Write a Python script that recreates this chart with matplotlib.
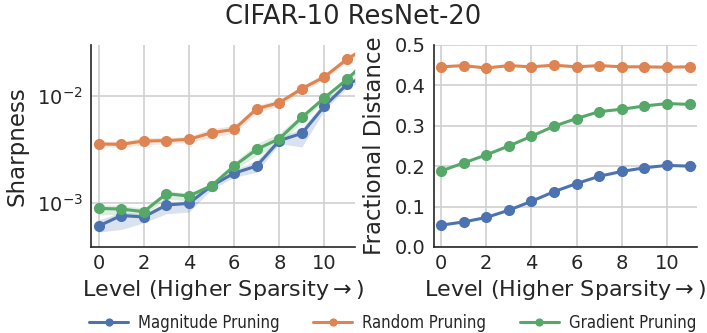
import numpy as np
import matplotlib.pyplot as plt
import seaborn as sns

sns.set_theme(style="whitegrid")
plt.rcParams['font.family'] = ['DejaVu Sans']
plt.rcParams['text.color'] = '#262626'
plt.rcParams['axes.labelcolor'] = '#262626'

levels = np.arange(13)
levels_fd = np.arange(12)

# sharpness (log scale), mean with lower/upper band
sharp_mag = [6.15e-4, 7.7e-4, 7.46e-4, 9.64e-4, 1.0e-3, 1.46e-3, 1.91e-3, 2.23e-3, 3.84e-3, 4.49e-3, 8.07e-3, 1.29e-2, 1.59e-2]
sharp_mag_lo = [5.4e-4, 5.7e-4, 6.6e-4, 8.0e-4, 8.3e-4, 1.35e-3, 1.75e-3, 1.95e-3, 3.6e-3, 3.35e-3, 7.4e-3, 1.2e-2, 1.45e-2]
sharp_mag_hi = [7.0e-4, 8.3e-4, 8.0e-4, 1.03e-3, 1.06e-3, 1.55e-3, 2.05e-3, 2.5e-3, 4.1e-3, 5.0e-3, 8.8e-3, 1.38e-2, 1.75e-2]

sharp_rand = [3.57e-3, 3.55e-3, 3.81e-3, 3.84e-3, 3.95e-3, 4.55e-3, 4.89e-3, 7.62e-3, 8.67e-3, 1.17e-2, 1.51e-2, 2.21e-2, 2.96e-2]
sharp_rand_lo = [3.35e-3, 3.35e-3, 3.5e-3, 3.6e-3, 3.7e-3, 4.1e-3, 4.5e-3, 7.0e-3, 8.1e-3, 1.1e-2, 1.42e-2, 2.08e-2, 2.8e-2]
sharp_rand_hi = [3.8e-3, 3.8e-3, 4.1e-3, 4.1e-3, 4.2e-3, 5.0e-3, 5.3e-3, 8.2e-3, 9.3e-3, 1.25e-2, 1.62e-2, 2.35e-2, 3.15e-2]

sharp_grad = [8.97e-4, 8.85e-4, 8.36e-4, 1.23e-3, 1.17e-3, 1.46e-3, 2.23e-3, 3.19e-3, 4.0e-3, 6.33e-3, 9.64e-3, 1.43e-2, 2.27e-2]
sharp_grad_lo = [7.8e-4, 7.9e-4, 7.8e-4, 1.1e-3, 1.05e-3, 1.38e-3, 2.05e-3, 2.8e-3, 3.5e-3, 5.8e-3, 9.0e-3, 1.35e-2, 2.1e-2]
sharp_grad_hi = [9.7e-4, 9.6e-4, 9.0e-4, 1.3e-3, 1.25e-3, 1.55e-3, 2.4e-3, 3.6e-3, 4.5e-3, 6.8e-3, 1.03e-2, 1.52e-2, 2.45e-2]

# fractional distance
fd_mag = [0.054, 0.062, 0.073, 0.091, 0.113, 0.137, 0.157, 0.175, 0.187, 0.196, 0.202, 0.200]
fd_rand = [0.446, 0.449, 0.443, 0.449, 0.446, 0.450, 0.446, 0.449, 0.446, 0.446, 0.445, 0.446]
fd_grad = [0.188, 0.208, 0.228, 0.250, 0.274, 0.299, 0.318, 0.335, 0.341, 0.349, 0.355, 0.353]

names = ['Magnitude Pruning', 'Random Pruning', 'Gradient Pruning']
colors = ['#4C72B0', '#DD8452', '#55A868']

fig = plt.figure(figsize=(7.07, 3.33), dpi=100)
ax1 = fig.add_axes([0.1287, 0.2583, 0.3734, 0.6066])
ax2 = fig.add_axes([0.6139, 0.2583, 0.372, 0.6066])

sharp = [(sharp_mag, sharp_mag_lo, sharp_mag_hi),
         (sharp_rand, sharp_rand_lo, sharp_rand_hi),
         (sharp_grad, sharp_grad_lo, sharp_grad_hi)]
for (m, lo, hi), c, n in zip(sharp, colors, names):
    ax1.fill_between(levels, lo, hi, color=c, alpha=0.2, lw=0)
    ax1.plot(levels, m, '-o', color=c, lw=2.2, ms=7, label=n)

ax1.set_yscale('log')
ax1.set_ylim(3.92e-4, 2.99e-2)
ax1.set_xlim(-0.34, 11.35)
ax1.set_xticks([0, 2, 4, 6, 8, 10])
ax1.set_yticks([1e-3, 1e-2])
ax1.minorticks_off()
ax1.set_ylabel('Sharpness', fontsize=16.5, labelpad=6)
ax1.set_xlabel('Level (Higher Sparsity$\\rightarrow$)', fontsize=16, labelpad=4)

for m, c in zip([fd_mag, fd_rand, fd_grad], colors):
    ax2.plot(levels_fd, m, '-o', color=c, lw=2.2, ms=7)
ax2.set_ylim(0, 0.5)
ax2.set_xlim(-0.31, 11.33)
ax2.set_xticks([0, 2, 4, 6, 8, 10])
ax2.set_yticks([0.0, 0.1, 0.2, 0.3, 0.4, 0.5])
ax2.set_ylabel('Fractional Distance', fontsize=16.5, labelpad=6)
ax2.set_xlabel('Level (Higher Sparsity$\\rightarrow$)', fontsize=16, labelpad=4)

for ax in (ax1, ax2):
    ax.tick_params(labelsize=14, length=0, labelcolor='#262626')
    ax.tick_params(axis='y', pad=6)
    ax.tick_params(axis='x', pad=5)
    for s in ('top', 'right'):
        ax.spines[s].set_visible(False)
    for s in ('left', 'bottom'):
        ax.spines[s].set_color('#262626')
        ax.spines[s].set_linewidth(1.2)
    ax.grid(True, color='#d0d0d0', lw=1.2)

fig.text(0.5, 1 - 17.5 / 333, 'CIFAR-10 ResNet-20', fontsize=18.5,
         ha='center', va='center')

handles, labels = ax1.get_legend_handles_labels()
fig.legend(handles, labels, loc='center left', bbox_to_anchor=(0.126, 0.03),
           ncol=3, frameon=False, prop={'size': 12, 'stretch': 'condensed'},
           handlelength=2.35, handletextpad=0.6, columnspacing=2.0,
           borderpad=0, borderaxespad=0, markerscale=0.7)

fig.savefig('out.png', dpi=100)
